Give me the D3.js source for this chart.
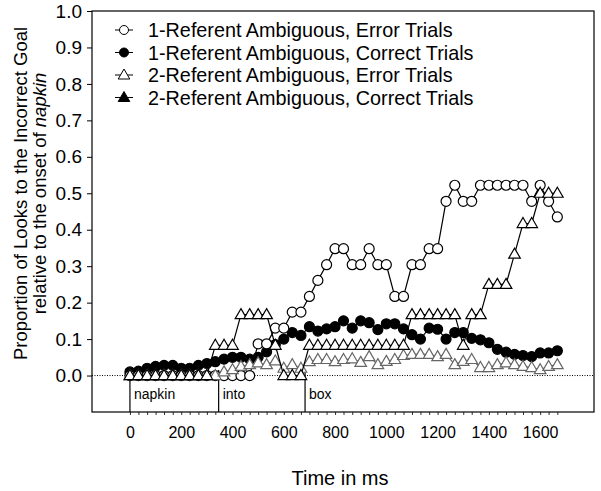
<!DOCTYPE html>
<html><head><meta charset="utf-8">
<script src="https://cdn.jsdelivr.net/npm/d3@7"></script>
<style>body{margin:0;background:#fff}svg{display:block;font-family:"Liberation Sans",Arial,sans-serif}</style>
</head><body><svg id="c" width="601" height="491"></svg>
<script>
// frame times (ms)
const times = [0,33,67,100,133,167,200,233,267,300,333,367,400,433,467,500,533,567,600,633,667,700,733,767,800,833,867,900,933,967,1000,1033,1067,1100,1133,1167,1200,1233,1267,1300,1333,1367,1400,1433,1467,1500,1533,1567,1600,1633,1667];
// 1-Referent Ambiguous, Error Trials (open circles)
const oneRefError = [0,0,0,0,0,0,0,0,0,0,0,0,0,0,0,0.087,0.087,0.13,0.13,0.174,0.174,0.217,0.261,0.304,0.348,0.348,0.304,0.304,0.348,0.304,0.304,0.217,0.217,0.304,0.304,0.348,0.348,0.478,0.522,0.478,0.478,0.522,0.522,0.522,0.522,0.522,0.522,0.478,0.522,0.478,0.435];
// 1-Referent Ambiguous, Correct Trials (filled circles)
const oneRefCorrect = [0.01,0.012,0.02,0.025,0.028,0.028,0.02,0.02,0.028,0.033,0.038,0.045,0.05,0.05,0.045,0.05,0.065,0.085,0.1,0.118,0.11,0.134,0.122,0.128,0.134,0.15,0.13,0.15,0.145,0.126,0.142,0.142,0.128,0.112,0.1,0.13,0.127,0.1,0.118,0.118,0.102,0.098,0.09,0.072,0.064,0.058,0.055,0.052,0.062,0.062,0.068];
// 2-Referent Ambiguous, Error Trials (open triangles)
const twoRefError = [0,0,0,0,0,0,0,0,0,0,0.083,0.083,0.083,0.167,0.167,0.167,0.167,0.083,0,0,0,0.083,0.083,0.083,0.083,0.083,0.083,0.083,0.083,0.083,0.083,0.083,0.083,0.167,0.167,0.167,0.167,0.167,0.167,0.083,0.167,0.167,0.25,0.25,0.25,0.333,0.417,0.417,0.5,0.5,0.5];
// 2-Referent Ambiguous, Correct Trials
const twoRefCorrect = [0,0,0,0,0,0,0,0,0,0,0,0.01,0.016,0.025,0.03,0.035,0.03,0.04,0.02,0.03,0.02,0.038,0.044,0.044,0.038,0.044,0.046,0.036,0.052,0.03,0.039,0.044,0.055,0.058,0.058,0.058,0.052,0.058,0.03,0.039,0.044,0.022,0.022,0.03,0.035,0.03,0.025,0.022,0.016,0.025,0.03];
const yTicks = [0,0.1,0.2,0.3,0.4,0.5,0.6,0.7,0.8,0.9,1.0];
const xTickLabels = [0,200,400,600,800,1000,1200,1400,1600];
const onsets = [{t:0,label:"napkin"},{t:346,label:"into"},{t:683,label:"box"}];
const legendLabels = ["1-Referent Ambiguous, Error Trials","1-Referent Ambiguous, Correct Trials","2-Referent Ambiguous, Error Trials","2-Referent Ambiguous, Correct Trials"];

const svg = d3.select("#c");
const L=92,R=594,T=11,B=412;
const x = d3.scaleLinear().domain([-148,1810]).range([L,R]);
const y = d3.scaleLinear().domain([-0.1,1.0]).range([B,T]);

// frame
svg.append("rect").attr("x",L).attr("y",T).attr("width",R-L).attr("height",B-T)
  .attr("fill","none").attr("stroke","#000").attr("stroke-width",1.2);

// y axis
const ya = svg.append("g").attr("transform",`translate(${L},0)`)
  .call(d3.axisLeft(y).tickValues(yTicks).tickSize(5).tickPadding(5).tickFormat(d3.format(".1f")));
ya.select(".domain").remove();
ya.selectAll("text").attr("font-size",19).attr("fill","#000").attr("font-family","Liberation Sans, Arial");
ya.selectAll("line").attr("stroke","#000");

// x minor ticks
const xm = svg.append("g").attr("transform",`translate(0,${B})`)
  .call(d3.axisBottom(x).tickValues(times).tickSize(3).tickFormat(""));
xm.select(".domain").remove();
xm.selectAll("line").attr("stroke","#000").attr("stroke-width",0.8);
// x labels
const xl = svg.append("g").attr("transform",`translate(0,${B})`)
  .call(d3.axisBottom(x).tickValues(xTickLabels).tickSize(0).tickPadding(15).tickFormat(d3.format("d")));
xl.select(".domain").remove();
xl.selectAll("text").attr("font-size",16).attr("fill","#000").attr("font-family","Liberation Sans, Arial");

// axis titles
svg.append("text").attr("x",340).attr("y",485).attr("text-anchor","middle")
  .attr("font-size",20).text("Time in ms");
const yt = svg.append("g").attr("transform","translate(27,193.5) rotate(-90)");
yt.append("text").attr("text-anchor","middle").attr("font-size",18.5)
  .text("Proportion of Looks to the Incorrect Goal");
const yt2 = svg.append("g").attr("transform","translate(46,193.5) rotate(-90)")
  .append("text").attr("text-anchor","middle").attr("font-size",18.5);
yt2.append("tspan").text("relative to the onset of ");
yt2.append("tspan").attr("font-style","italic").text("napkin");

// zero dotted line
svg.append("line").attr("x1",L).attr("x2",R).attr("y1",y(0)).attr("y2",y(0))
  .attr("stroke","#000").attr("stroke-width",1).attr("stroke-dasharray","1,1.5");

// onset markers
onsets.forEach(o=>{
  svg.append("line").attr("x1",x(o.t)).attr("x2",x(o.t)).attr("y1",y(0.015)).attr("y2",B)
    .attr("stroke","#000").attr("stroke-width",1.2);
  svg.append("text").attr("x",x(o.t)+4).attr("y",399).attr("font-size",14).text(o.label);
});

const line = d3.line().x((d,i)=>x(times[i])).y(d=>y(d));
const triPath = "M0,-6L5.8,4L-5.8,4Z";

function drawSeries(vals, kind, stroke, fill){
  svg.append("path").attr("d",line(vals)).attr("fill","none").attr("stroke",stroke).attr("stroke-width",1.2);
  const g = svg.append("g");
  vals.forEach((v,i)=>{
    if(kind==="circle"){
      g.append("circle").attr("cx",x(times[i])).attr("cy",y(v)).attr("r",5)
        .attr("fill",fill).attr("stroke",stroke).attr("stroke-width",1.2);
    } else {
      g.append("path").attr("d",triPath).attr("transform",`translate(${x(times[i])},${y(v)})`)
        .attr("fill",fill).attr("stroke",stroke).attr("stroke-width",1.2);
    }
  });
}
drawSeries(oneRefCorrect,"circle","#000","#000");
drawSeries(oneRefError,"circle","#000","#fff");
drawSeries(twoRefCorrect,"tri","#666","#fff");
drawSeries(twoRefError,"tri","#000","#fff");

// legend
const kinds=[["circle","#fff"],["circle","#000"],["tri","#fff"],["tri","#000"]];
legendLabels.forEach((lab,k)=>{
  const cy = 30 + k*22.5;
  svg.append("line").attr("x1",115).attr("x2",133).attr("y1",cy).attr("y2",cy).attr("stroke","#000").attr("stroke-width",1);
  if(kinds[k][0]==="circle"){
    svg.append("circle").attr("cx",124).attr("cy",cy).attr("r",4.5).attr("fill",kinds[k][1]).attr("stroke","#000");
  } else {
    svg.append("path").attr("d",triPath).attr("transform",`translate(124,${cy})`).attr("fill",kinds[k][1]).attr("stroke","#000");
  }
  svg.append("text").attr("x",148).attr("y",cy+7).attr("font-size",19.8).text(lab);
});
</script></body></html>
